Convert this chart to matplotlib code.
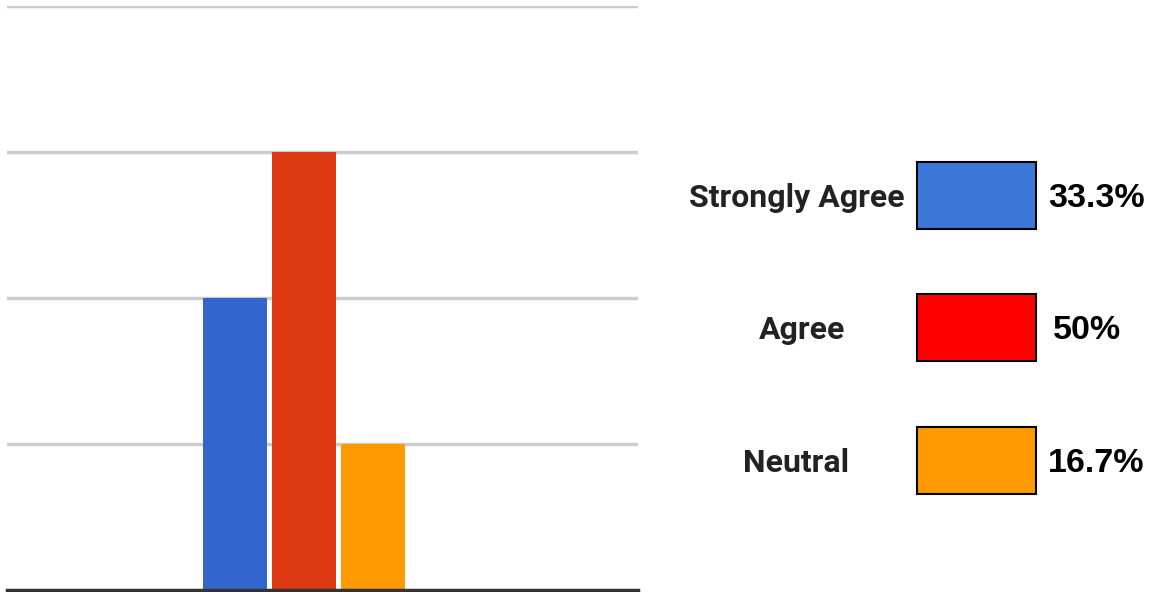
import matplotlib.pyplot as plt
from matplotlib.patches import Rectangle

categories = ['Strongly Agree', 'Agree', 'Neutral']
counts = [2, 3, 1]
percent_labels = ['33.3%', '50%', '16.7%']
bar_colors = ['#3366cc', '#dc3912', '#ff9900']
legend_colors = ['#3c78d8', '#ff0000', '#ff9900']

W, H = 1152, 592
fig = plt.figure(figsize=(W / 100, H / 100), dpi=100)
ax = fig.add_axes([7 / W, 2 / H, (638 - 7) / W, (590 - 6) / H])

x = [-1, 0, 1]
ax.bar(x, counts, width=0.92, color=bar_colors, zorder=3)
ax.set_xlim(-4.3, 4.84)
ax.set_ylim(0, 4)
ax.set_yticks([1, 2, 3, 4])
ax.yaxis.grid(True, color='#cccccc', linewidth=2.5, zorder=0)
ax.tick_params(left=False, bottom=False, labelleft=False, labelbottom=False)
for s in ['left', 'right', 'top']:
    ax.spines[s].set_visible(False)
ax.spines['bottom'].set_color('#333333')
ax.spines['bottom'].set_linewidth(2.5)
ax.spines['bottom'].set_zorder(4)

# legend on the right
box_tops = [162, 294, 427]
label_x = [797, 802, 796]
pct_x = [1048, 1053, 1048]
for name, col, pct, top, lx, px in zip(categories, legend_colors, percent_labels,
                                        box_tops, label_x, pct_x):
    rect = Rectangle((917 / W, 1 - (top + 67) / H), 119 / W, 67 / H,
                     transform=fig.transFigure, facecolor=col,
                     edgecolor='black', linewidth=1.5)
    fig.patches.append(rect)
    yb = 1 - (top + 45) / H
    fig.text(lx / W, yb, name, ha='center', va='baseline', fontsize=23,
             fontweight='bold', family='Roboto', color='#222222')
    fig.text(px / W, yb, pct, ha='left', va='baseline', fontsize=24.5,
             fontweight='bold', family='Liberation Sans', color='black')

fig.savefig('out.png', dpi=100)
